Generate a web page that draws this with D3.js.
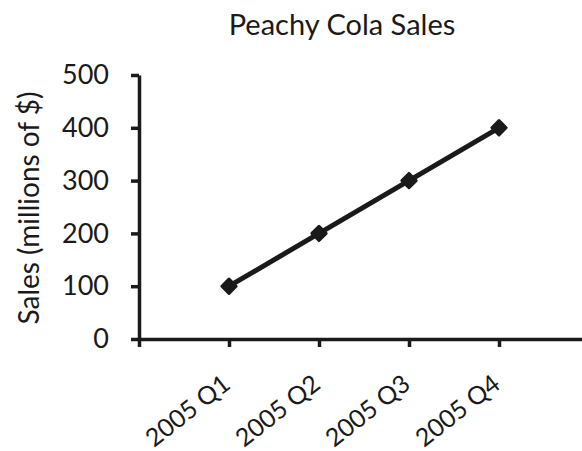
<!DOCTYPE html>
<html>
<head>
<meta charset="utf-8">
<script src="https://cdn.jsdelivr.net/npm/d3@7"></script>
<style>
  html, body { margin: 0; padding: 0; background: #fff; }
  svg { display: block; }
  text { font-family: Lato, "Open Sans", sans-serif; fill: #1a1a1a; }
</style>
</head>
<body>
<svg id="chart" width="582" height="451"></svg>
<script>
const chartTitle = "Peachy Cola Sales";
const yAxisTitle = "Sales (millions of $)";
const quarters = ["2005 Q1", "2005 Q2", "2005 Q3", "2005 Q4"];
const sales = [100, 200, 300, 400];
const yTicks = [0, 100, 200, 300, 400, 500];

const svg = d3.select("#chart");
const ink = "#1a1a1a";

// Category slots: 0 is the axis origin, quarters sit on slots 1..4
const x = d3.scaleLinear().domain([0, 5]).range([139, 589]);
const y = d3.scaleLinear().domain([0, 500]).range([339, 75]);

svg.append("text")
  .attr("x", 342).attr("y", 35)
  .attr("text-anchor", "middle")
  .attr("font-size", 29)
  .text(chartTitle);

// Y axis
const yAxis = svg.append("g")
  .attr("transform", `translate(${x(0)},0)`)
  .call(d3.axisLeft(y).tickValues(yTicks).tickSize(8).tickPadding(22).tickSizeOuter(0));
yAxis.select(".domain").attr("stroke", ink).attr("stroke-width", 3.5);
yAxis.selectAll(".tick line").attr("stroke", ink).attr("stroke-width", 3.5);
yAxis.selectAll(".tick text")
  .attr("font-size", 27).attr("fill", ink).attr("font-family", "Lato, 'Open Sans', sans-serif");

// X axis
const slots = d3.range(0, 5);
const xAxis = svg.append("g")
  .attr("transform", `translate(0,${y(0)})`)
  .call(d3.axisBottom(x).tickValues(slots).tickSize(8).tickSizeOuter(0).tickFormat(() => ""));
xAxis.select(".domain").attr("stroke", ink).attr("stroke-width", 3.5);
xAxis.selectAll(".tick line").attr("stroke", ink).attr("stroke-width", 3.5);

// Slanted quarter labels
svg.append("g").selectAll("text")
  .data(quarters)
  .join("text")
  .attr("transform", (d, i) => `translate(${x(i + 1) + 3},${y(0) + 48}) rotate(-38)`)
  .attr("text-anchor", "end")
  .attr("font-size", 25)
  .text(d => d);

// Y axis title
svg.append("text")
  .attr("transform", `translate(39,${208}) rotate(-90)`)
  .attr("text-anchor", "middle")
  .attr("font-size", 28)
  .text(yAxisTitle);

// Sales line
const line = d3.line()
  .x((d, i) => x(i + 1))
  .y(d => y(d));

svg.append("path")
  .datum(sales)
  .attr("d", line)
  .attr("fill", "none")
  .attr("stroke", ink)
  .attr("stroke-width", 5);

svg.append("g").selectAll("path")
  .data(sales)
  .join("path")
  .attr("transform", (d, i) => `translate(${x(i + 1)},${y(d)})`)
  .attr("d", d3.symbol(d3.symbolDiamond2, 130))
  .attr("fill", ink)
  .attr("stroke", ink)
  .attr("stroke-width", 3)
  .attr("stroke-linejoin", "round");
</script>
</body>
</html>
